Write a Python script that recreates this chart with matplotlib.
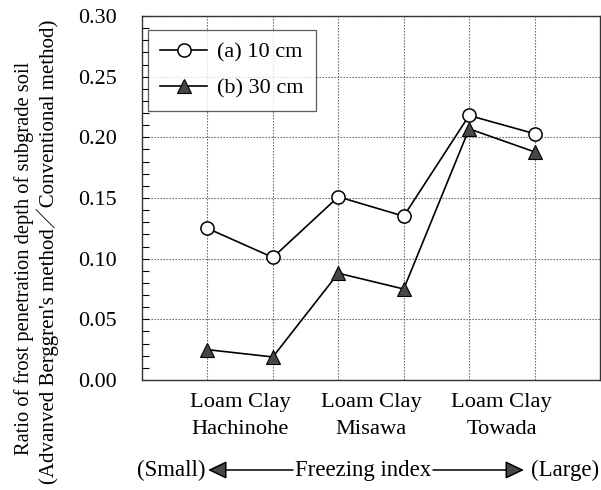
import matplotlib.pyplot as plt
from matplotlib.ticker import MultipleLocator

plt.rcParams['font.family'] = ['Liberation Serif', 'Noto Sans CJK JP']

# frost penetration ratio at each site (two soils per site)
positions = [1, 2, 3, 4, 5, 6]
ratio_10cm = [0.125, 0.101, 0.151, 0.135, 0.218, 0.203]
ratio_30cm = [0.025, 0.019, 0.088, 0.075, 0.207, 0.188]
site_names = ["Loam Clay\nHachinohe", "Loam Clay\nMisawa", "Loam Clay\nTowada"]
site_centres = [1.5, 3.5, 5.5]
y_ticks = [0.00, 0.05, 0.10, 0.15, 0.20, 0.25, 0.30]

fig = plt.figure(figsize=(6.01, 4.90), dpi=100)
ax = fig.add_axes([142 / 601, 1 - 380 / 490, (600 - 142) / 601, (380 - 16) / 490])

ax.plot(positions, ratio_10cm, '-o', color='black', lw=1.2, ms=9.5,
        mfc='white', mec='black', mew=1.1, label='(a) 10 cm', zorder=4)
ax.plot(positions, ratio_30cm, '-^', color='black', lw=1.2, ms=10.5,
        mfc='#474747', mec='black', mew=0.8, label='(b) 30 cm', zorder=3)

ax.set_xlim(0, 7)
ax.set_ylim(0, 0.30)
ax.set_yticks(y_ticks)
ax.set_yticklabels([f"{v:.2f}" for v in y_ticks], fontsize=15.8)
ax.yaxis.set_minor_locator(MultipleLocator(0.01))
ax.tick_params(axis='y', which='both', direction='in', length=5, width=0.8, pad=18)
ax.set_xticks(positions)
ax.set_xticklabels([])
ax.tick_params(axis='x', length=0)
ax.grid(True, color='#555555', linestyle=(0, (1.2, 1.5)), lw=0.8)
for sp in ax.spines.values():
    sp.set_color('#333333')
    sp.set_linewidth(1.0)

for name, xc in zip(site_names, site_centres):
    ax.text(xc, -0.011, name, ha='center', va='top', fontsize=16.2,
            linespacing=1.55, transform=ax.transData, clip_on=False)

leg = ax.legend(loc='upper left', bbox_to_anchor=(0.013, 0.962), fontsize=16,
                frameon=True, fancybox=False, edgecolor='#333333',
                handlelength=2.1, borderpad=0.55, labelspacing=0.7,
                handletextpad=0.45, borderaxespad=0)
leg.get_frame().set_linewidth(0.9)

# y axis title, two lines
fig.text(24 / 601, 1 - 258 / 490, "Ratio of frost penetration depth of subgrade soil",
         rotation=90, ha='center', va='center', fontsize=14.8)
fig.text(48 / 601, 1 - 252 / 490, "(Advanved Berggren's method／Conventional method)",
         rotation=90, ha='center', va='center', fontsize=15.0)

# freezing index direction
ty = 1 - 470 / 490
fig.text(137 / 601, ty, "(Small)", ha='left', va='center', fontsize=16.5)
fig.text(363 / 601, ty, "Freezing index", ha='center', va='center', fontsize=16.5)
fig.text(599 / 601, ty, "(Large)", ha='right', va='center', fontsize=16.5)
arrow = dict(arrowstyle='-|>,head_length=1.15,head_width=0.55', color='black',
             fc='#474747', lw=1.1, shrinkA=0, shrinkB=0)
ax.annotate('', xy=(208 / 601, ty), xytext=(293 / 601, ty), xycoords='figure fraction',
            textcoords='figure fraction', arrowprops=arrow)
ax.annotate('', xy=(524 / 601, ty), xytext=(433 / 601, ty), xycoords='figure fraction',
            textcoords='figure fraction', arrowprops=arrow)

fig.savefig('out.png', dpi=100)
